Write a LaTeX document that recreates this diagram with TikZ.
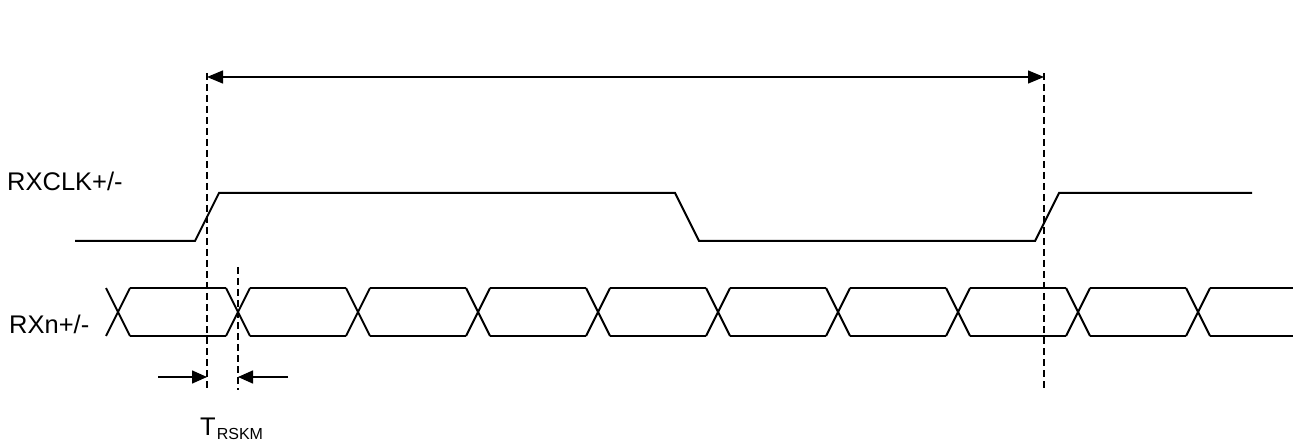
\documentclass[tikz,border=0pt]{standalone}
\usepackage{fontspec}
\setmainfont{Liberation Sans}
\usepackage{tikz}
\usetikzlibrary{calc,arrows.meta}
\definecolor{bg}{HTML}{FFFFFF}
\definecolor{ink}{HTML}{000000}
\tikzset{
  wave/.style={draw=ink, line width=2pt, line join=miter},
  guide/.style={draw=ink, line width=1.8pt, dash pattern=on 7pt off 4pt},
  span/.style={draw=ink, line width=1.3pt, {Triangle[length=16pt,width=13pt]}-{Triangle[length=16pt,width=13pt]}},
  skew/.style={draw=ink, line width=1.5pt, -{Triangle[length=15pt,width=13pt]}},
  sig/.style={font=\fontsize{25.5}{30}\selectfont, text=ink, anchor=base west, inner sep=0pt}
}

\begin{document}
\begin{tikzpicture}[x=1pt,y=-1pt]
\useasboundingbox[fill=bg] (0,0) rectangle (1313,443);
% labels
\node[sig] (clklbl) at (7,191) {RXCLK+/-};
\node[sig] (datalbl) at (9,333) {RXn+/-};
\node[sig] (skewlbl) at (200,435) {T\kern1pt{\fontsize{16}{16}\selectfont\raisebox{-4pt}{RSKM}}};
% clock
\draw[wave] (75,241) -- (195,241) -- (219,193) -- (675,193) -- (699,241)
  -- (1035,241) -- (1059,193) -- (1252,193);
% data eye
\foreach \c in {118,238,...,1198}{
  \draw[wave] (\c-12,288) -- (\c+12,336);
  \draw[wave] (\c-12,336) -- (\c+12,288);
}
\foreach \c in {118,238,...,1078}{
  \draw[wave] (\c+12,288) -- (\c+108,288);
  \draw[wave] (\c+12,336) -- (\c+108,336);
}
\draw[wave] (1210,288) -- (1293,288);
\draw[wave] (1210,336) -- (1293,336);
% guides
\coordinate (g1top) at (207,73);
\coordinate (g1bot) at (207,390);
\coordinate (g2top) at (1044,73);
\coordinate (g2bot) at (1044,390);
\coordinate (g3top) at (238,267);
\coordinate (g3bot) at (238,390);
\draw[guide] (g1top) -- (g1bot);
\draw[guide] (g2top) -- (g2bot);
\draw[guide] (g3top) -- (g3bot);
% period
\coordinate (sp1) at (207,77);
\coordinate (sp2) at (1044,77);
\draw[span] (sp1) -- (sp2);
% skew
\coordinate (sk1) at (158,377);
\coordinate (sk2) at (288,377);
\draw[skew] (sk1) -- (sk1 -| g1top);
\draw[skew] (sk2) -- (sk2 -| g3top);
\end{tikzpicture}
\end{document}
